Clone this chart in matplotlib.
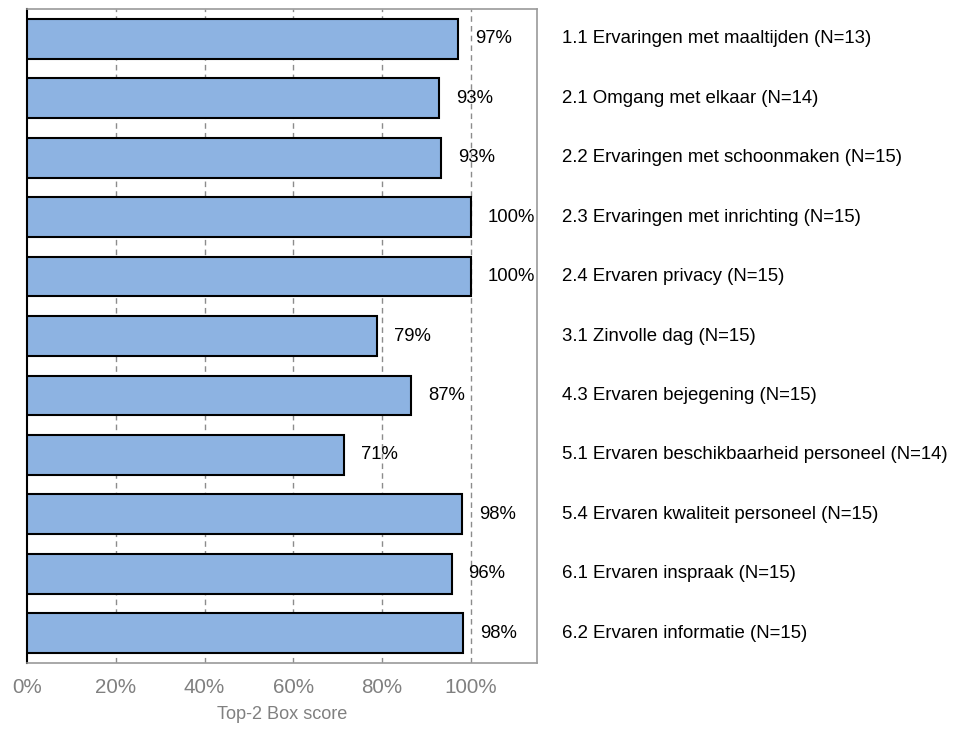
import matplotlib.pyplot as plt
import numpy as np

categories = [
    "1.1 Ervaringen met maaltijden (N=13)",
    "2.1 Omgang met elkaar (N=14)",
    "2.2 Ervaringen met schoonmaken (N=15)",
    "2.3 Ervaringen met inrichting (N=15)",
    "2.4 Ervaren privacy (N=15)",
    "3.1 Zinvolle dag (N=15)",
    "4.3 Ervaren bejegening (N=15)",
    "5.1 Ervaren beschikbaarheid personeel (N=14)",
    "5.4 Ervaren kwaliteit personeel (N=15)",
    "6.1 Ervaren inspraak (N=15)",
    "6.2 Ervaren informatie (N=15)",
]
values = [97.1, 92.9, 93.3, 100, 100, 78.9, 86.6, 71.4, 98.0, 95.7, 98.3]
tick_vals = [0, 20, 40, 60, 80, 100]

plt.rcParams["font.family"] = ["Liberation Sans", "DejaVu Sans"]

fig = plt.figure(figsize=(9.55, 7.29), dpi=100)
ax = fig.add_axes([0.02827, 0.0905, 0.534, 0.8971])

y = np.arange(len(categories))
ax.barh(y, values, height=0.67, color="#8DB3E2", edgecolor="black", linewidth=1.5, zorder=3)

for yi, v, name in zip(y, values, categories):
    ax.annotate(f"{round(v)}%", (v, yi), xytext=(12, 0), textcoords="offset points",
                va="center", ha="left", fontsize=13.3, color="black", zorder=4)
    ax.text(1.049, yi, name, transform=ax.get_yaxis_transform(), va="center", ha="left",
            fontsize=13.4, color="black")

ax.set_xlim(0, 114.9)
ax.set_ylim(len(categories) - 0.5, -0.5)
ax.set_xticks(tick_vals)
ax.set_xticklabels([f"{t}%" for t in tick_vals])
ax.set_yticks([])
ax.tick_params(axis="x", length=0, labelsize=14.9, labelcolor="#808080", pad=11)
ax.set_xlabel("Top-2 Box score", fontsize=13.1, color="#808080", labelpad=6)

for x in tick_vals[1:]:
    ax.axvline(x, color="#8c8c8c", linestyle=(0, (4, 3)), linewidth=1, zorder=1)

for side in ["top", "right", "bottom"]:
    ax.spines[side].set_color("#9a9a9a")
    ax.spines[side].set_linewidth(1.2)
ax.spines["left"].set_color("black")
ax.spines["left"].set_linewidth(1.5)

fig.savefig("out.png", dpi=100)
